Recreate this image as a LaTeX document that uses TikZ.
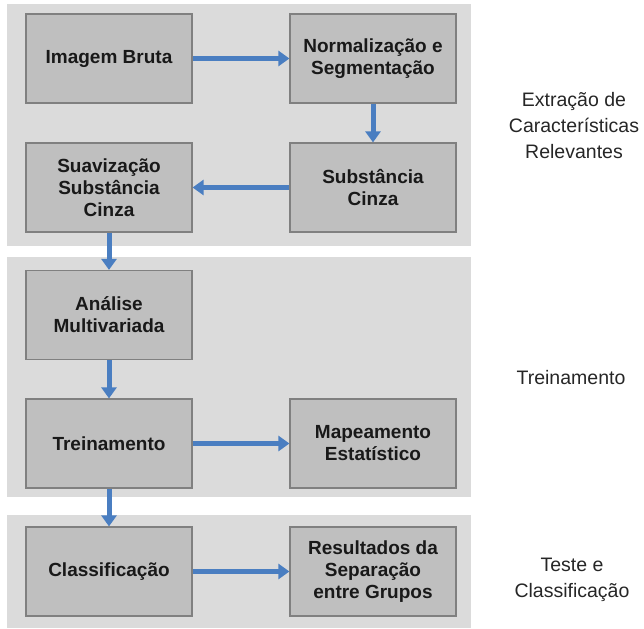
\documentclass[tikz,border=0pt]{standalone}
\usepackage{fontspec}
\setmainfont{Liberation Sans}
\usetikzlibrary{arrows.meta,positioning}
\colorlet{colorPanel}{black!14}
\colorlet{colorBox}{black!25}
\colorlet{colorEdge}{black!50}
\definecolor{colorFlow}{RGB}{74,126,193}
\tikzset{
   every path/.style={>=stealth},
   panel/.style={fill=colorPanel,draw=none},
   stage/.style={rectangle,fill=colorBox,draw=colorEdge,line width=1.2pt,
      minimum width=166pt,minimum height=89pt,align=center,
      font=\fontsize{19}{22}\selectfont\bfseries,text=black!90},
   phase/.style={align=center,font=\fontsize{19.5}{26}\selectfont,text=black!85},
   flow/.style={-{Triangle[length=11pt,width=15pt]},line width=5pt,color=colorFlow},
}
\begin{document}
\begin{tikzpicture}[x=1pt,y=-1pt]
      \useasboundingbox (0,0) rectangle (644,628);
      \fill[panel] (7,4) rectangle (471,246);
      \fill[panel] (7,257) rectangle (471,497);
      \fill[panel] (7,515) rectangle (471,628);
      \node[stage] (img) at (109,58.5) {Imagem Bruta};
      \node[stage] (norm) at (373,58.5) {Normalização e\\Segmentação};
      \node[stage] (subs) at (373,187.5) {Substância\\Cinza};
      \node[stage] (suav) at (109,187.5) {Suavização\\Substância\\Cinza};
      \node[stage] (anal) at (109,315) {Análise\\Multivariada};
      \node[stage] (trei) at (109,443.5) {Treinamento};
      \node[stage] (mape) at (373,443.5) {Mapeamento\\Estatístico};
      \node[stage] (clas) at (109,571.5) {Classificação};
      \node[stage] (resu) at (373,571.5) {Resultados da\\Separação\\entre Grupos};
      \node[phase] (extr) at (574,126) {Extração de\\Características\\Relevantes};
      \node[phase] (trein) at (571,378) {Treinamento};
      \node[phase] (test) at (572,580) {Teste e\\Classificação};
      \draw[flow] (img) -- (norm);
      \draw[flow] (norm) -- (subs);
      \draw[flow] (subs) -- (suav);
      \draw[flow] (suav) -- (anal);
      \draw[flow] (anal) -- (trei);
      \draw[flow] (trei) -- (mape);
      \draw[flow] (trei) -- (clas);
      \draw[flow] (clas) -- (resu);
    \end{tikzpicture}
\end{document}
